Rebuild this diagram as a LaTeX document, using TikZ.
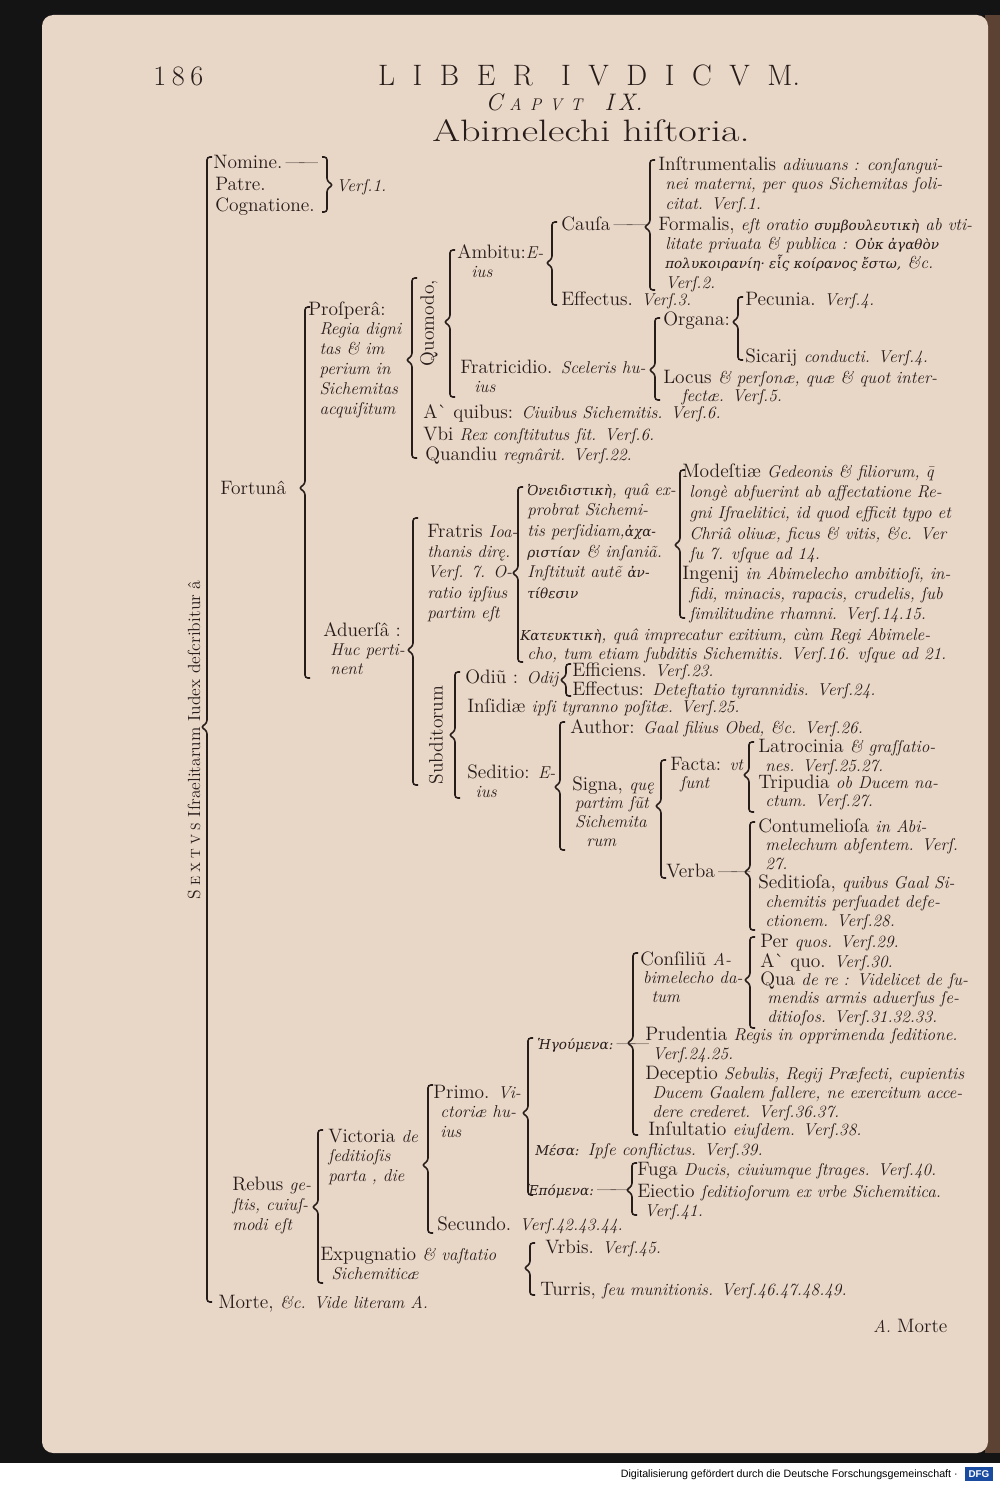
\documentclass[tikz,border=0pt]{standalone}
\usepackage{fontspec}
\newfontfamily\grk[Scale=0.7]{DejaVu Serif}
\newfontfamily\ftr{Liberation Sans}

\definecolor{paper}{RGB}{232,214,199}
\definecolor{ink}{RGB}{38,28,25}
\definecolor{edge}{RGB}{92,66,50}
\definecolor{dfgblue}{RGB}{25,75,160}

\newcommand{\ita}[1]{{\fontsize{12.2}{14.2}\selectfont\itshape #1}}
\newcommand{\gr}[1]{{\grk\itshape #1}}
\newcommand{\vrs}{Verſ.}
\newcommand{\dsh}{\,—\kern-4pt—}
\newcommand{\hnl}{\\\hspace*{5pt}}
\newcommand{\ls}{\hspace{12.5pt}}
% lines of one entry, first baseline on the node's base, pitch as option
\newcommand{\ml}[2][14.2pt]{\vtop{\baselineskip=#1\relax\lineskiplimit=-20pt\lineskip=0pt\let\\\cr\halign{##\hfil\cr#2\crcr}}}
% brace: x, top, bottom, tip (tip to the left)
\newcommand{\brc}[4]{\draw[bline] (#1+5,#2) -- (#1,#2) -- (#1,#4-4) -- (#1-6,#4) -- (#1,#4+4) -- (#1,#3) -- (#1+5,#3);}
% brace with tip to the right
\newcommand{\rbrc}[4]{\draw[bline] (#1-5,#2) -- (#1,#2) -- (#1,#4-4) -- (#1+6,#4) -- (#1,#4+4) -- (#1,#3) -- (#1-5,#3);}

\begin{document}
\begin{tikzpicture}[x=0.025cm, y=-0.025cm,
    txt/.style={anchor=base west, inner sep=0pt, text=ink,
                font=\fontsize{13.8}{14.2}\selectfont},
    rot/.style={txt, anchor=center, rotate=90},
    bline/.style={draw=ink, line width=1.1pt, rounded corners=2pt}]
  \useasboundingbox (0,0) rectangle (1000,1485);
  % scan: page, edges, footer
  \fill[black!92] (0,0) rectangle (1000,1463);
  \fill[edge] (985,15) rectangle (1000,1453);
  \fill[paper, rounded corners=8pt] (42,15) rectangle (988,1453);
  \fill[white] (0,1463) rectangle (1000,1485);
  \node[anchor=base east, inner sep=0pt, font=\ftr\fontsize{7.6}{9}\selectfont] (dfgtxt) at (958,1477)
    {Digitalisierung gefördert durch die Deutsche Forschungsgemeinschaft ·};
  \fill[dfgblue] (965,1467) rectangle (993,1481);
  \node[text=white, inner sep=0pt, font=\ftr\bfseries\fontsize{7}{8}\selectfont] (dfg) at (979,1474) {DFG};

  % head of the page
  \node[txt, font=\fontsize{20}{24}\selectfont] (folio) at (153,86) {1\hspace{4pt}8\hspace{4pt}6};
  \node[txt, anchor=base, font=\fontsize{21}{24}\selectfont] (liber) at (589,86)
    {L\ls I\ls B\ls E\ls R\hspace{20pt}I\ls V\ls D\ls I\ls C\ls V\ls M.};
  \node[txt, anchor=base, font=\fontsize{17}{20}\selectfont\itshape] (caput) at (564,111)
    {C\hspace{5pt}{\fontsize{12}{14}\selectfont A\hspace{6pt}P\hspace{6pt}V\hspace{6pt}T}\hspace{16pt}I\hspace{3pt}X.};
  \node[txt, anchor=base, font=\fontsize{22}{26}\selectfont, xscale=1.3, transform shape] (titel) at (591,141) {Abimelechi hiſtoria.};

  % root
  \node[rot, font=\fontsize{12.5}{14}\selectfont] (sextus) at (194,740)
    {S{\fontsize{9.5}{11}\selectfont\hspace{3pt}E\hspace{3pt}X\hspace{3pt}T\hspace{3pt}V\hspace{3pt}S} Iſraelitarum Iudex deſcribitur â};
  \brc{207}{157}{1302}{727}
  \node[txt] (nomine) at (213,168) {Nomine.\dsh};
  \node[txt] (patre) at (215,190) {Patre.};
  \node[txt] (cognat) at (215,211) {Cognatione.};
  \rbrc{327}{157}{212}{185}
  \node[txt] (vers1) at (336,191) {\ita{\vrs1.}};
  \node[txt] (fortuna) at (220,494) {Fortunâ};
  \node[txt] (rebus) at (232,1190) {\ml[14.5pt]{Rebus \ita{ge-}\\\ita{ſtis, cuiuſ-}\\\ita{modi eſt}}};
  \node[txt] (morte) at (218,1308) {Morte, \ita{\&c. Vide literam A.}};

  % Fortuna
  \brc{305}{307}{678}{488}
  \node[txt] (prospera) at (308,315) {\ml{Proſperâ:\\\hspace*{8pt}\ita{Regia digni}\\\hspace*{8pt}\ita{tas \& im}\\\hspace*{8pt}\ita{perium in}\\\hspace*{8pt}\ita{Sichemitas}\\\hspace*{8pt}\ita{acquiſitum}}};
  \node[txt] (aduersa) at (323,636) {\ml[13.8pt]{Aduerſâ :\\\hspace*{5pt}\ita{Huc perti-}\\\hspace*{5pt}\ita{nent}}};

  % Prospera
  \brc{412}{278}{458}{360}
  \node[rot] (quomodo) at (429,323) {Quomodo,};
  \node[txt] (aquibus) at (423,418) {A\textasciigrave\ quibus: \ita{Ciuibus Sichemitis. \vrs6.}};
  \node[txt] (vbi) at (423,440) {Vbi \ita{Rex conſtitutus ſit. \vrs6.}};
  \node[txt] (quandiu) at (425,460) {Quandiu \ita{regnârit. \vrs22.}};

  \brc{450}{250}{397}{322}
  \node[txt] (ambitu) at (457,258) {\ml{Ambitu:\ita{E-}\\\hspace*{10pt}\ita{ius}}};
  \node[txt] (fratric) at (460,373) {\ml{Fratricidio. \ita{Sceleris hu-}\\\hspace*{10pt}\ita{ius}}};

  \brc{552}{222}{305}{263}
  \node[txt] (causa) at (561,230) {Cauſa\dsh};
  \node[txt] (effectus) at (561,305) {Effectus. \ita{\vrs3.}};

  \brc{650}{160}{290}{227}
  \node[txt] (instrum) at (658,170) {\ml{Inſtrumentalis \ita{adiuuans : conſangui-}\hnl\ita{nei materni, per quos Sichemitas ſoli-}\hnl\ita{citat. \vrs1.}}};
  \node[txt] (formalis) at (658,230) {\ml[13.8pt]{Formalis, \ita{eſt oratio} \gr{συμβουλευτικὴ} \ita{ab vti-}\hnl\ita{litate priuata \& publica :} \gr{Οὐκ ἀγαθὸν}\hnl\gr{πολυκοιρανίη· εἷς κοίρανος ἔστω,} \ita{\&c.}\hnl\ita{\vrs2.}}};

  \brc{655}{318}{400}{370}
  \node[txt] (organa) at (663,325) {Organa:};
  \node[txt] (locus) at (663,383) {\ml[13.5pt]{Locus \ita{\& perſonæ, quæ \& quot inter-}\\\hspace*{13pt}\ita{fectæ. \vrs5.}}};
  \brc{738}{297}{360}{322}
  \node[txt] (pecunia) at (745,305) {Pecunia. \ita{\vrs4.}};
  \node[txt] (sicarij) at (745,362) {Sicarij \ita{conducti. \vrs4.}};

  % Aduersa
  \brc{413}{518}{785}{650}
  \node[txt] (fratris) at (427,537) {\ml[14.5pt]{Fratris \ita{Ioa-}\\\ita{thanis dirę.}\\\ita{Verſ. 7. O-}\\\ita{ratio ipſius}\\\ita{partim eſt}}};
  \node[rot] (subdit) at (436,735) {Subditorum};

  \brc{518}{487}{662}{573}
  \node[txt] (oneid) at (527,495) {\ml[14.7pt]{\gr{Ὀνειδιστικὴ}\ita{, quâ ex-}\\\ita{probrat Sichemi-}\\\ita{tis perſidiam,}\gr{ἀχα-}\\\gr{ριστίαν} \ita{\& inſaniã.}\\\ita{Inſtituit autẽ} \gr{ἀν-}\\\gr{τίθεσιν}}};
  \node[txt] (kateu) at (520,640) {\ml{\gr{Κατευκτικὴ}\ita{, quâ imprecatur exitium, cùm Regi Abimele-}\hnl\ita{cho, tum etiam ſubditis Sichemitis. \vrs16. vſque ad 21.}}};

  \brc{680}{470}{618}{545}
  \node[txt] (modest) at (682,477) {\ml[14.7pt]{Modeſtiæ \ita{Gedeonis \& filiorum, \={q}}\hnl\ita{longè abfuerint ab affectatione Re-}\hnl\ita{gni Iſraelitici, id quod efficit typo et}\hnl\ita{Chriâ oliuæ, ficus \& vitis, \&c. Ver}\hnl\ita{ſu 7. vſque ad 14.}}};
  \node[txt] (ingenij) at (682,579) {\ml[14.5pt]{Ingenij \ita{in Abimelecho ambitioſi, in-}\hnl\ita{fidi, minacis, rapacis, crudelis, ſub}\hnl\ita{ſimilitudine rhamni. \vrs14.15.}}};

  % Subditorum
  \brc{455}{672}{798}{735}
  \node[txt] (odium) at (465,683) {Odiũ : \ita{Odij}};
  \node[txt] (insidiae) at (467,712) {Inſidiæ \ita{ipſi tyranno poſitæ. \vrs25.}};
  \node[txt] (seditio) at (467,778) {\ml{Seditio: \ita{E-}\\\hspace*{6pt}\ita{ius}}};

  \brc{566}{664}{696}{680}
  \node[txt] (efficiens) at (572,676) {Efficiens. \ita{\vrs23.}};
  \node[txt] (effect2) at (572,695) {Effectus: \ita{Deteſtatio tyrannidis. \vrs24.}};

  \brc{560}{722}{850}{787}
  \node[txt] (author) at (570,733) {Author: \ita{Gaal filius Obed, \&c. \vrs26.}};
  \node[txt] (signa) at (572,790) {\ml[13.5pt]{Signa, \ita{quę}\\\hspace*{2pt}\ita{partim ſũt}\\\hspace*{2pt}\ita{Sichemita}\\\hspace*{10pt}\ita{rum}}};

  \brc{661}{760}{878}{806}
  \node[txt] (facta) at (670,770) {\ml[12.8pt]{Facta: \ita{vt}\\\hspace*{7pt}\ita{ſunt}}};
  \node[txt] (verba) at (666,877) {Verba\dsh};

  \brc{749}{742}{812}{775}
  \node[txt] (latroc) at (758,752) {\ml{Latrocinia \ita{\& graſſatio-}\hnl\ita{nes. \vrs25.27.}}};
  \node[txt] (tripud) at (758,788) {\ml[13.2pt]{Tripudia \ita{ob Ducem na-}\hnl\ita{ctum. \vrs27.}}};

  \brc{750}{822}{930}{872}
  \node[txt] (contum) at (758,832) {\ml[13.5pt]{Contumelioſa \ita{in Abi-}\hnl\ita{melechum abſentem. Verſ.}\hnl\ita{27.}}};
  \node[txt] (sedit2) at (758,888) {\ml[13.8pt]{Seditioſa, \ita{quibus Gaal Si-}\hnl\ita{chemitis perſuadet defe-}\hnl\ita{ctionem. \vrs28.}}};

  % Rebus gestis
  \brc{318}{1130}{1283}{1207}
  \node[txt] (victoria) at (328,1142) {\ml{Victoria \ita{de}\\\ita{ſeditioſis}\\\ita{parta , die}}};
  \node[txt] (expugn) at (320,1260) {\ml{Expugnatio \ita{\& vaſtatio}\\\hspace*{8pt}\ita{Sichemiticæ}}};

  \brc{428}{1085}{1233}{1165}
  \node[txt] (primo) at (433,1098) {\ml{Primo. \ita{Vi-}\\\hspace*{5pt}\ita{ctoriæ hu-}\\\hspace*{5pt}\ita{ius}}};
  \node[txt] (secundo) at (437,1230) {Secundo. \ita{\vrs42.43.44.}};

  \brc{528}{1038}{1195}{1113}
  \node[txt] (hegum) at (537,1049) {\gr{Ἡγούμενα:}\dsh};
  \node[txt] (mesa) at (535,1155) {\gr{Μέσα:} \ita{Ipſe conflictus. \vrs39.}};
  \node[txt] (hepom) at (527,1195) {\gr{Ἑπόμενα:}\dsh};

  \brc{633}{953}{1135}{1043}
  \node[txt] (consil) at (640,965) {\ml[13.5pt]{Conſiliũ \ita{A-}\\\hspace*{2pt}\ita{bimelecho da-}\\\hspace*{8pt}\ita{tum}}};
  \node[txt] (prudent) at (645,1040) {\ml{Prudentia \ita{Regis in opprimenda ſeditione.}\hnl\ita{\vrs24.25.}}};
  \node[txt] (decept) at (645,1079) {\ml[13.8pt]{Deceptio \ita{Sebulis, Regij Præfecti, cupientis}\hnl\ita{Ducem Gaalem fallere, ne exercitum acce-}\hnl\ita{dere crederet. \vrs36.37.}}};
  \node[txt] (insult) at (648,1135) {Inſultatio \ita{eiuſdem. \vrs38.}};

  \brc{750}{937}{1028}{980}
  \node[txt] (perquos) at (760,947) {Per \ita{quos. \vrs29.}};
  \node[txt] (aquo) at (760,967) {A\textasciigrave\ quo. \ita{\vrs30.}};
  \node[txt] (quare) at (760,985) {\ml[13.3pt]{Qua \ita{de re : Videlicet de ſu-}\hnl\ita{mendis armis aduerſus ſe-}\hnl\ita{ditioſos. \vrs31.32.33.}}};

  \brc{632}{1163}{1215}{1190}
  \node[txt] (fuga) at (637,1175) {Fuga \ita{Ducis, ciuiumque ſtrages. \vrs40.}};
  \node[txt] (eiectio) at (637,1197) {\ml{Eiectio \ita{ſeditioſorum ex vrbe Sichemitica.}\hnl\ita{\vrs41.}}};

  \brc{530}{1243}{1295}{1268}
  \node[txt] (urbis) at (545,1253) {Vrbis. \ita{\vrs45.}};
  \node[txt] (turris) at (540,1295) {Turris, \ita{ſeu munitionis. \vrs46.47.48.49.}};

  % catchword
  \node[txt] (catch) at (873,1332) {\ita{A.} Morte};
\end{tikzpicture}
\end{document}
